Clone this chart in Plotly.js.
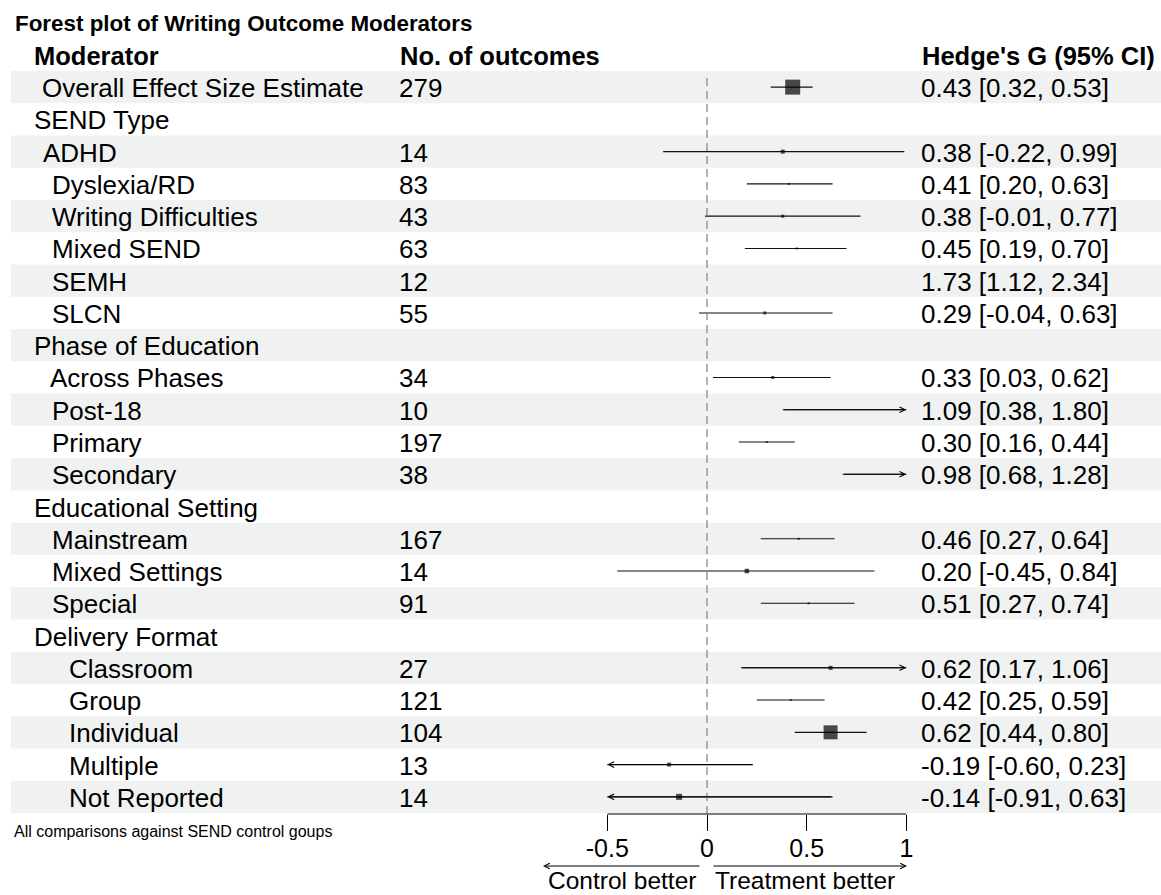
<!DOCTYPE html>
<html>
<head>
<meta charset="utf-8">
<script src="https://cdn.plot.ly/plotly-3.0.1.min.js"></script>
<style>html,body{margin:0;padding:0;background:#fff}#chart{width:1161px;height:895px}</style>
</head>
<body>
<div id="chart"></div>
<script>
// ---------------- data ----------------
const moderators = ["Overall Effect Size Estimate","SEND Type","ADHD","Dyslexia/RD","Writing Difficulties","Mixed SEND","SEMH","SLCN",
  "Phase of Education","Across Phases","Post-18","Primary","Secondary",
  "Educational Setting","Mainstream","Mixed Settings","Special",
  "Delivery Format","Classroom","Group","Individual","Multiple","Not Reported"];
const outcomes = [279,null,14,83,43,63,12,55,null,34,10,197,38,null,167,14,91,null,27,121,104,13,14];
const hedgesG  = [0.43,null,0.38,0.41,0.38,0.45,1.73,0.29,null,0.33,1.09,0.30,0.98,null,0.46,0.20,0.51,null,0.62,0.42,0.62,-0.19,-0.14];
const ciLower  = [0.32,null,-0.22,0.20,-0.01,0.19,1.12,-0.04,null,0.03,0.38,0.16,0.68,null,0.27,-0.45,0.27,null,0.17,0.25,0.44,-0.60,-0.91];
const ciUpper  = [0.53,null,0.99,0.63,0.77,0.70,2.34,0.63,null,0.62,1.80,0.44,1.28,null,0.64,0.84,0.74,null,1.06,0.59,0.80,0.23,0.63];
const boxWeight = [15,null,4,2,3,2,3,3,null,3,3,2,2,null,2,4.5,2,null,4,2,14,4,6];
const tickValues = [-0.5,0,0.5,1];
const tickLabels = ["-0.5","0","0.5","1"];
const headers = ["Moderator","No. of outcomes","Hedge's G (95% CI)"];
const titleText = "Forest plot of Writing Outcome Moderators";
const footnote = "All comparisons against SEND control goups";
const dirLeft = "Control better", dirRight = "Treatment better";

// ---------------- layout geometry ----------------
const W = 1161, H = 895;
const X0 = 707, PXU = 199.33;          // pixel of x=0, pixels per unit
const TOP = 71, RH = 32.26;            // first row top, row height
const XMIN = -0.5, XMAX = 1;
const FONT = "Liberation Sans, Arial, Helvetica, sans-serif";
const px = p => p / W;                 // pixel -> paper x
const py = p => 1 - p / H;             // pixel -> paper y
const labelIndent = [40,32,41,50,50,50,50,50,32,48,50,50,50,32,50,50,50,32,67,67,67,67,67];

const n = moderators.length;
const shapes = [], annotations = [];

// zebra bands
for (let i = 0; i < n; i += 2) {
  shapes.push({type:"rect", xref:"paper", yref:"y", x0:px(11), x1:1, y0:i-0.5, y1:i+0.5,
    fillcolor:"#eff2f1", line:{width:0}, layer:"below"});
}
// zero line
shapes.push({type:"line", xref:"x", yref:"paper", x0:0, x1:0, y0:py(78), y1:py(814),
  line:{color:"#808080", width:1.2, dash:"8px,5px"}});
// axis line
shapes.push({type:"line", xref:"x", yref:"paper", x0:XMIN, x1:XMAX, y0:py(814), y1:py(814),
  line:{color:"#000", width:1}});

function txt(text, xpx, y, size, opts) {
  return Object.assign({text:text, xref:"paper", yref:"y", x:px(xpx), y:y, xanchor:"left", yanchor:"middle",
    showarrow:false, yshift:-1, font:{family:FONT, size:size, color:"#000"}}, opts||{});
}
// title + headers
annotations.push(txt("<b>"+titleText+"</b>", 13, 0, 22.4, {yref:"paper", y:py(23), yshift:0}));
annotations.push(txt("<b>"+headers[0]+"</b>", 32, -1, 25.5));
annotations.push(txt("<b>"+headers[1]+"</b>", 398, -1, 25.5));
annotations.push(txt("<b>"+headers[2]+"</b>", 920, -1, 25.5));
// row texts
for (let i = 0; i < n; i++) {
  annotations.push(txt(moderators[i], labelIndent[i], i, 26));
  if (outcomes[i] !== null) annotations.push(txt(String(outcomes[i]), 397, i, 26));
  if (hedgesG[i] !== null) {
    const s = hedgesG[i].toFixed(2) + " [" + ciLower[i].toFixed(2) + ", " + ciUpper[i].toFixed(2) + "]";
    annotations.push(txt(s, 919, i, 26));
  }
}
// footnote
annotations.push(txt(footnote, 12, 0, 16, {yref:"paper", y:py(831), yshift:0}));
// direction labels and arrows
annotations.push(txt(dirLeft, 698, 0, 24.5, {yref:"paper", y:py(880), yshift:0, xanchor:"right"}));
annotations.push(txt(dirRight, 713, 0, 24.5, {yref:"paper", y:py(880), yshift:0}));
annotations.push({xref:"paper", yref:"paper", x:px(543), y:py(866), ax:158, ay:0, text:"", showarrow:true,
  arrowhead:5, arrowsize:1.1, arrowwidth:1, arrowcolor:"#000"});
annotations.push({xref:"paper", yref:"paper", x:px(907), y:py(866), ax:-195, ay:0, text:"", showarrow:true,
  arrowhead:5, arrowsize:1.1, arrowwidth:1, arrowcolor:"#000"});

// CI lines + clipped arrows
const ciX = [], ciY = [], ptX = [], ptY = [], ptS = [];
for (let i = 0; i < n; i++) {
  if (hedgesG[i] === null) continue;
  const l = Math.max(ciLower[i], XMIN), u = Math.min(ciUpper[i], XMAX);
  if (l < u) {
    ciX.push(l, u, null); ciY.push(i, i, null);
    if (ciUpper[i] > XMAX) annotations.push({xref:"x", yref:"y", axref:"x", ayref:"y", x:XMAX, y:i, ax:l, ay:i,
      text:"", showarrow:true, arrowhead:5, arrowsize:1.1, arrowwidth:1, arrowcolor:"#000"});
    if (ciLower[i] < XMIN) annotations.push({xref:"x", yref:"y", axref:"x", ayref:"y", x:XMIN, y:i, ax:u, ay:i,
      text:"", showarrow:true, arrowhead:5, arrowsize:1.1, arrowwidth:1, arrowcolor:"#000"});
  }
  if (hedgesG[i] >= XMIN && hedgesG[i] <= XMAX) { ptX.push(hedgesG[i]); ptY.push(i); ptS.push(boxWeight[i]); }
}

const traces = [
  {type:"scatter", mode:"lines", x:ciX, y:ciY, line:{color:"#111", width:1.1}, hoverinfo:"skip", showlegend:false, cliponaxis:false},
  {type:"scatter", mode:"markers", x:ptX, y:ptY, marker:{symbol:"square", size:ptS, color:"#000", line:{width:0}},
    hoverinfo:"skip", showlegend:false, cliponaxis:false}
];

const layout = {
  width:W, height:H, autosize:false,
  margin:{l:0, r:0, t:0, b:0, pad:0},
  paper_bgcolor:"#fff", plot_bgcolor:"#fff",
  showlegend:false,
  xaxis:{domain:[0,1], range:[-X0/PXU, (W-X0)/PXU], anchor:"free", position:py(814),
    tickmode:"array", tickvals:tickValues, ticktext:tickLabels, ticks:"outside", ticklen:16, tickwidth:1, tickcolor:"#000",
    ticklabelstandoff:-4,
    tickfont:{family:FONT, size:25, color:"#000"}, showgrid:false, zeroline:false, showline:false, fixedrange:true},
  yaxis:{domain:[0,1], range:[(H-TOP)/RH-0.5, -TOP/RH-0.5], visible:false, showgrid:false, zeroline:false, fixedrange:true},
  shapes:shapes, annotations:annotations
};
Plotly.newPlot("chart", traces, layout, {staticPlot:true, displayModeBar:false});
</script>
</body>
</html>
